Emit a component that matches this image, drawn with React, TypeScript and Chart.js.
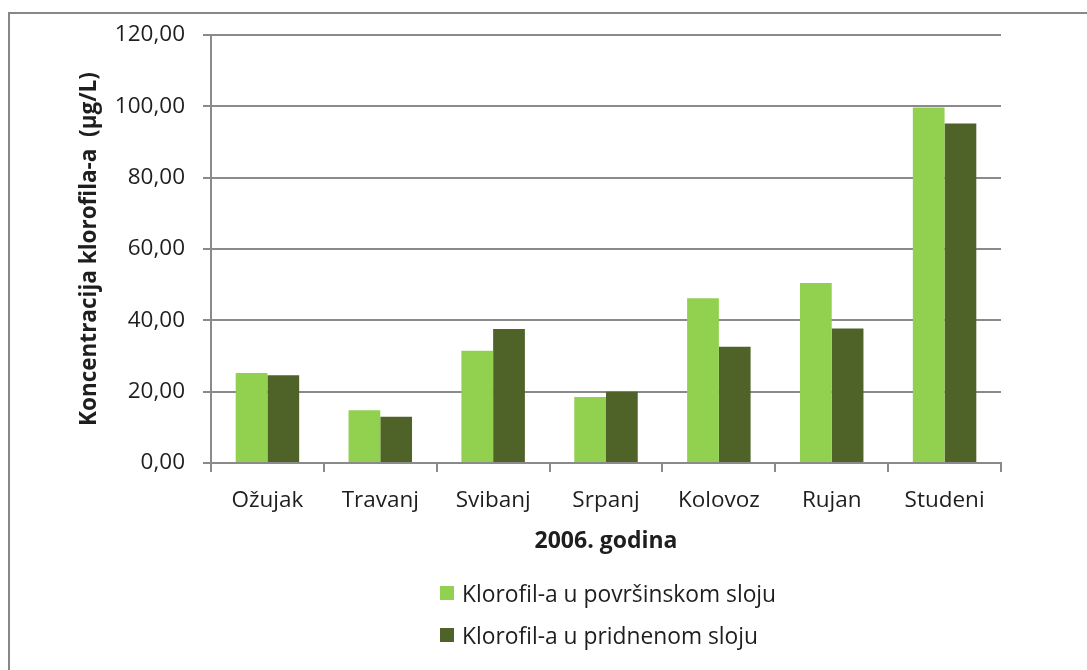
import React, { useEffect, useRef } from "react";
import { Chart, registerables } from "chart.js";

Chart.register(...registerables);

const categories = ["Ožujak", "Travanj", "Svibanj", "Srpanj", "Kolovoz", "Rujan", "Studeni"];
const surfaceValues = [25.2, 14.8, 31.5, 18.5, 46.2, 50.5, 99.7];
const bottomValues = [24.6, 13.0, 37.6, 20.0, 32.6, 37.7, 95.2];
const seriesNames = ["Klorofil-a u površinskom sloju", "Klorofil-a u pridnenom sloju"];
const seriesColors = ["#92D050", "#4F6228"];
const yTicks = [0, 20, 40, 60, 80, 100, 120];
const yTitle = "Koncentracija klorofila-a  (µg/L)";
const xTitle = "2006. godina";

const FONT = "'Open Sans', 'DejaVu Sans', sans-serif";
const GRID = "#8a8a8a";
const TEXT = "#1e1e1e";

export default function App() {
  const ref = useRef<HTMLCanvasElement | null>(null);

  useEffect(() => {
    if (!ref.current) return;
    const chart = new Chart(ref.current, {
      type: "bar",
      data: {
        labels: categories,
        datasets: [
          {
            label: seriesNames[0],
            data: surfaceValues,
            backgroundColor: seriesColors[0],
            categoryPercentage: 0.5625,
            barPercentage: 1,
          },
          {
            label: seriesNames[1],
            data: bottomValues,
            backgroundColor: seriesColors[1],
            categoryPercentage: 0.5625,
            barPercentage: 1,
          },
        ],
      },
      options: {
        responsive: false,
        animation: false,
        devicePixelRatio: 1,
        layout: { padding: { left: 0, top: 35, right: 86, bottom: 0 } },
        plugins: {
          legend: { display: false },
          tooltip: { enabled: false },
        },
        scales: {
          x: {
            grid: {
              drawOnChartArea: false,
              drawTicks: true,
              tickLength: 9,
              color: GRID,
              lineWidth: 2,
            },
            border: { display: true, color: GRID, width: 2 },
            ticks: {
              color: TEXT,
              font: { family: FONT, size: 22.5 },
              padding: 15,
              maxRotation: 0,
            },
            title: {
              display: true,
              text: xTitle,
              color: TEXT,
              font: { family: FONT, size: 23, weight: "bold" },
              padding: { top: 0, bottom: 115 },
            },
            afterFit: (scale: any) => {
              scale.height = 207;
            },
          },
          y: {
            min: 0,
            max: 120,
            afterBuildTicks: (scale: any) => {
              scale.ticks = yTicks.map((v) => ({ value: v }));
            },
            grid: {
              color: GRID,
              lineWidth: 2,
              drawTicks: true,
              tickLength: 8,
            },
            border: { display: true, color: GRID, width: 2 },
            ticks: {
              color: TEXT,
              font: { family: FONT, size: 22.5 },
              padding: 18,
              callback: (v: any) => Number(v).toFixed(2).replace(".", ","),
            },
            title: {
              display: true,
              text: yTitle,
              color: TEXT,
              font: { family: FONT, size: 22.5, weight: "bold" },
              padding: { top: 76, bottom: 0 },
            },
            afterFit: (scale: any) => {
              scale.width = 211;
            },
          },
        },
      },
    });
    return () => chart.destroy();
  }, []);

  return (
    <div
      style={{
        position: "fixed",
        left: 0,
        top: 0,
        width: 1087,
        height: 670,
        background: "#fff",
        overflow: "hidden",
      }}
    >
      <div
        style={{
          position: "absolute",
          left: 8,
          top: 12,
          width: 1079,
          height: 658,
          borderLeft: "2px solid #878787",
          borderTop: "2px solid #878787",
          boxSizing: "border-box",
        }}
      />
      <canvas
        ref={ref}
        width={1087}
        height={670}
        style={{ position: "absolute", left: 0, top: 0, width: 1087, height: 670 }}
      />
      {seriesNames.map((name, i) => (
        <div
          key={name}
          style={{
            position: "absolute",
            left: 440,
            top: i === 0 ? 578 : 620,
            height: 30,
            display: "flex",
            alignItems: "center",
            fontFamily: FONT,
            fontSize: 22.8,
            color: TEXT,
            whiteSpace: "nowrap",
          }}
        >
          <span
            style={{
              display: "inline-block",
              width: 14,
              height: 14,
              background: seriesColors[i],
              marginRight: 8,
            }}
          />
          <span>{name}</span>
        </div>
      ))}
    </div>
  );
}
